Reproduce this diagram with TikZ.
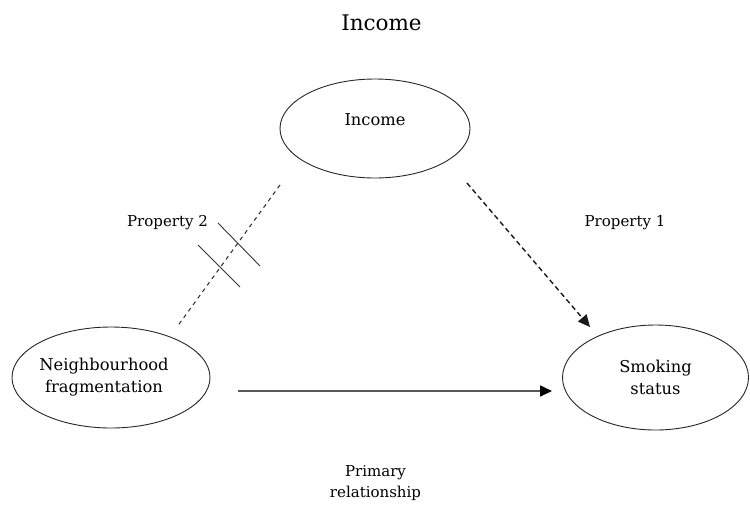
\documentclass[tikz,border=0pt]{standalone}
\usepackage{fontspec}
\setmainfont{DejaVu Serif}
\usetikzlibrary{shapes.geometric,arrows.meta}

\tikzset{
  oval/.style={ellipse, draw=black!85, line width=0.9pt, inner sep=0pt, align=center,
    font=\fontsize{16.3}{22}\selectfont},
  lbl/.style={font=\fontsize{15}{21}\selectfont, inner sep=0pt, anchor=base, align=center},
  weak/.style={draw=black!85, line width=1pt, dash pattern=on 4pt off 4pt},
  effect/.style={draw=black!90, line width=1.4pt, dash pattern=on 5pt off 3.5pt,
    -{Triangle[length=12pt,width=11pt]}},
  primary/.style={draw=black!65, line width=1.6pt,
    -{Triangle[length=12pt,width=11pt,fill=black,color=black]}},
  tick/.style={draw=black!80, line width=0.9pt}
}

\begin{document}
\begin{tikzpicture}[x=1pt,y=-1pt]
  \useasboundingbox (0,0) rectangle (750,507);

  % heading
  \node[lbl, font=\fontsize{21.5}{25}\selectfont] (title) at (381.5,30) {Income};

  % the three variables
  \node[oval, minimum width=190pt, minimum height=99pt,
        label={[name=inctext, yshift=9pt, font=\fontsize{16.3}{22}\selectfont]center:Income}]
        (inc) at (375,128.5) {};
  \node[oval, minimum width=198pt, minimum height=101pt] (nb) at (111,377.5)
        {\hspace*{-14pt}Neighbourhood\\\hspace*{-14pt}fragmentation};
  \node[oval, minimum width=186pt, minimum height=105pt] (smk) at (655.5,377.5)
        {Smoking\\status};

  % connector end points
  \coordinate (incA) at (280,185);
  \coordinate (nbA)  at (177,327);
  \coordinate (incB) at (467,183);
  \coordinate (smkB) at (590,327);
  \coordinate (nbC)  at (238,391);
  \coordinate (smkC) at (552,391);

  % connectors
  \draw[weak]    (incA) -- (nbA);
  \draw[effect]  (incB) -- (smkB);
  \draw[primary] (nbC)  -- (smkC);

  % break marks across the income--fragmentation link
  \coordinate (t1a) at (218,223);
  \coordinate (t1b) at (260,266);
  \coordinate (t2a) at (198,245);
  \coordinate (t2b) at (240,287);
  \draw[tick] (t1a) -- (t1b);
  \draw[tick] (t2a) -- (t2b);

  % link labels
  \node[lbl] (p2) at (167.5,226) {Property 2};
  \node[lbl] (p1) at (625,226) {Property 1};
  \node[lbl] (pr) at (375.5,497) {Primary\\relationship};
\end{tikzpicture}
\end{document}
